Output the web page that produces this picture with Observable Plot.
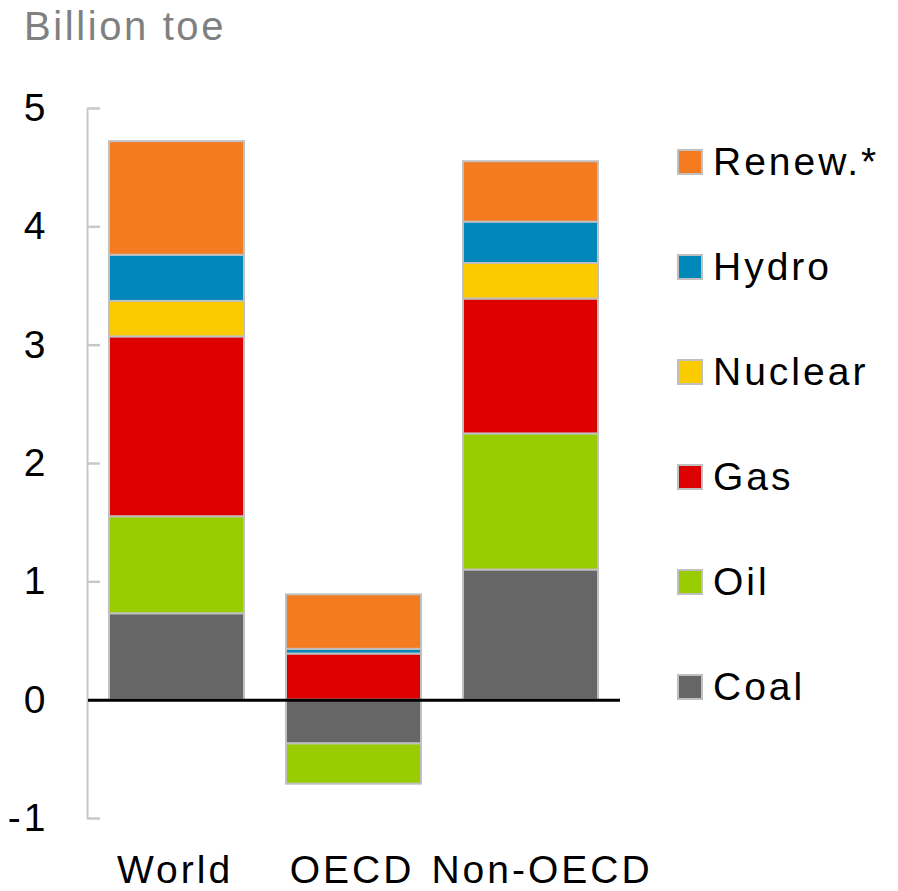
<!DOCTYPE html>
<html>
<head>
<meta charset="utf-8">
<script src="https://cdn.jsdelivr.net/npm/d3@7"></script>
<script src="https://cdn.jsdelivr.net/npm/@observablehq/plot@0.6"></script>
<style>
  html, body { margin: 0; padding: 0; background: #fff; }
  #wrap { position: relative; width: 898px; height: 891px; font-family: "Liberation Sans", Arial, sans-serif; }
  #title { position: absolute; left: 24px; top: 1px; font-size: 40px; line-height: 50px; color: #808080; letter-spacing: 2.6px; }
  #legend { position: absolute; left: 677px; top: 109px; }
  .row { height: 105px; display: flex; align-items: center; }
  .sw { width: 22px; height: 22px; border: 2px solid #c0c0c0; box-sizing: content-box; margin-right: 10px; }
  .lab { font-size: 39px; color: #000; letter-spacing: 3px; }
</style>
</head>
<body>
<div id="wrap">
  <div id="chart"></div>
  <div id="title">Billion toe</div>
  <div id="legend"></div>
</div>
<script>
const regions = ["World", "OECD", "Non-OECD"];
const sources = ["Coal", "Oil", "Gas", "Nuclear", "Hydro", "Renew.*"];
const colors = ["#666666", "#99cc00", "#dd0000", "#facc00", "#0088bb", "#f47b20"];
const worldValues = [0.73, 0.82, 1.52, 0.30, 0.39, 0.96];
const oecdValues = [-0.37, -0.34, 0.39, 0, 0.04, 0.46];
const nonOecdValues = [1.10, 1.15, 1.14, 0.30, 0.35, 0.51];
const yTicks = [-1, 0, 1, 2, 3, 4, 5];

const series = [worldValues, oecdValues, nonOecdValues];
const data = [];
regions.forEach((r, i) => sources.forEach((s, j) => {
  if (series[i][j] !== 0) data.push({region: r, source: s, value: series[i][j]});
}));

const xAxisOpts = {tickSize: 0, tickPadding: 37, fontSize: 39, label: null};

const chart = Plot.plot({
  width: 898,
  height: 891,
  marginLeft: 88,
  marginRight: 278,
  marginTop: 108,
  marginBottom: 73,
  style: {fontFamily: "'Liberation Sans', Arial, sans-serif", letterSpacing: "3px", color: "#000", background: "transparent"},
  x: {domain: regions, paddingInner: 0.236, paddingOuter: 0.1124, axis: null, label: null},
  y: {domain: [-1, 5], axis: null, label: null},
  color: {domain: sources, range: colors},
  marks: [
    Plot.frame({fill: "#c8c8c8", stroke: null, insetLeft: -2, insetRight: 532}),
    Plot.ruleY(yTicks, {y: d => d, stroke: "#c8c8c8", strokeWidth: 2.5, insetLeft: -1, insetRight: 532 - 12}),
    Plot.barY(data, Plot.stackY({x: "region", y: "value", fill: "source", stroke: "#c0c0c0", strokeWidth: 2})),
    Plot.ruleY([0], {stroke: "#000", strokeWidth: 3}),
    Plot.axisY(yTicks, {tickSize: 0, tickPadding: 40, fontSize: 39, tickFormat: d => String(d), label: null}),
    Plot.axisX(regions.slice(0, 2), {...xAxisOpts, dx: -2, style: {letterSpacing: "2.2px"}}),
    Plot.axisX(regions.slice(2), {...xAxisOpts, dx: 11, style: {letterSpacing: "2.2px"}})
  ]
});
document.getElementById("chart").appendChild(chart);

const legend = document.getElementById("legend");
const order = sources.slice().reverse();
order.forEach(s => {
  const row = document.createElement("div");
  row.className = "row";
  const sw = document.createElement("div");
  sw.className = "sw";
  sw.style.background = colors[sources.indexOf(s)];
  const lab = document.createElement("div");
  lab.className = "lab";
  lab.textContent = s;
  row.appendChild(sw);
  row.appendChild(lab);
  legend.appendChild(row);
});
</script>
</body>
</html>
